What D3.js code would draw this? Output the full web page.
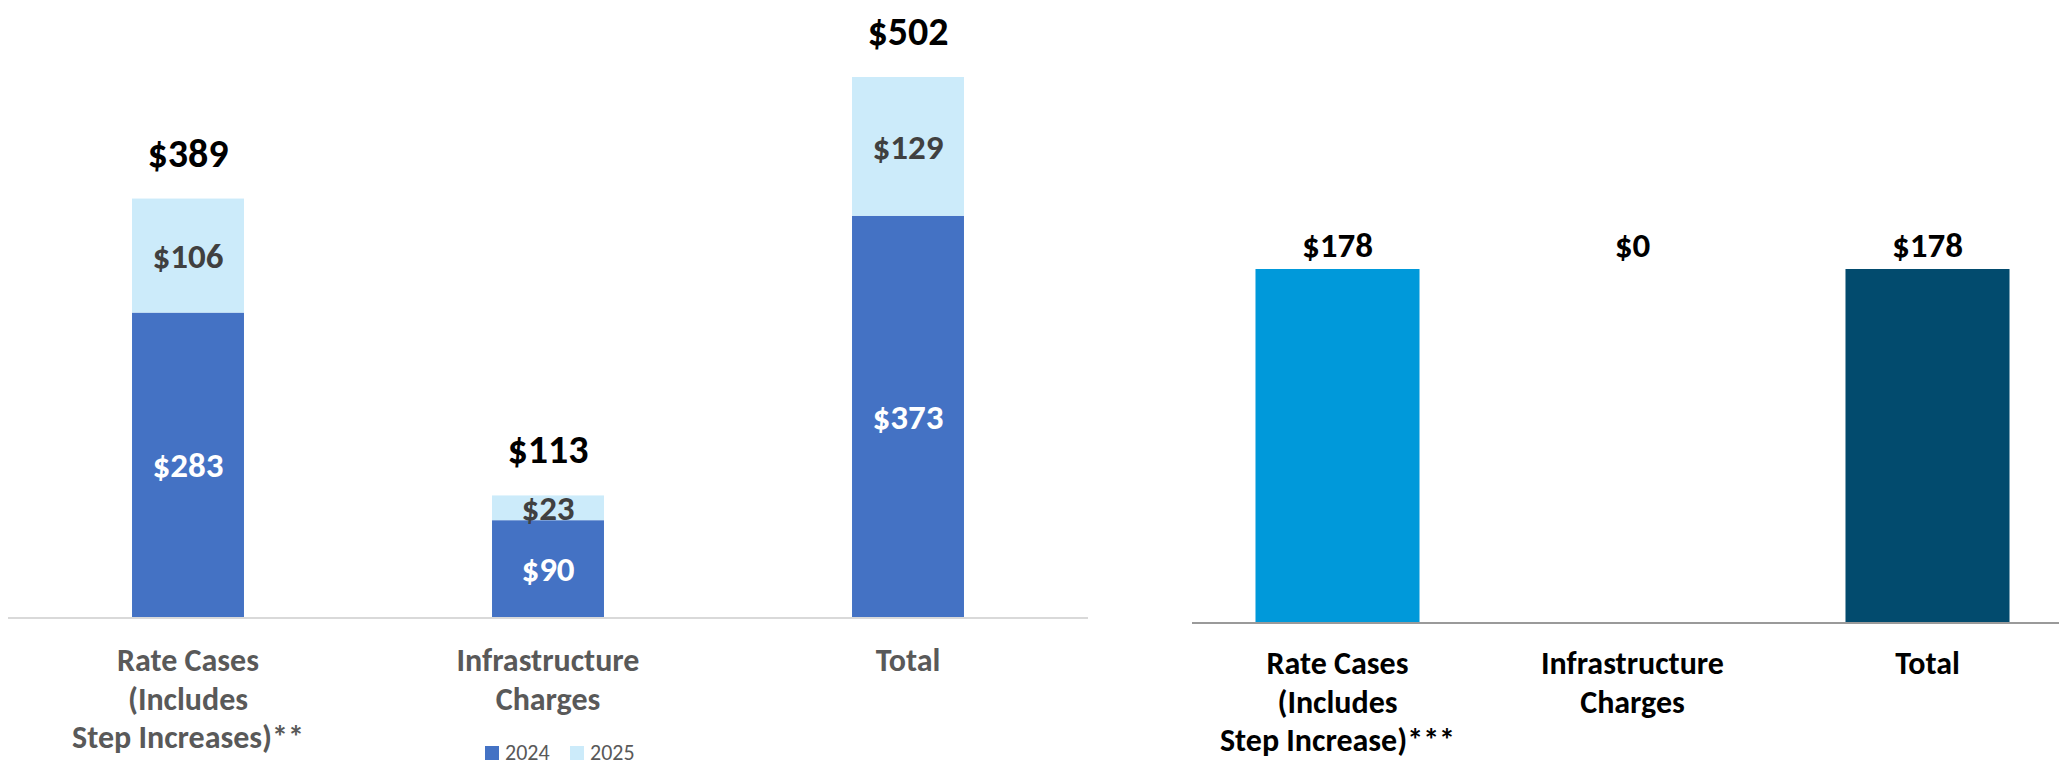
<!DOCTYPE html>
<html>
<head>
<meta charset="utf-8">
<script src="https://cdn.jsdelivr.net/npm/d3@7"></script>
<style>
  body { margin: 0; background: #fff; }
  svg text { font-family: Carlito, 'Liberation Sans Narrow', Lato, sans-serif; }
</style>
</head>
<body>
<div id="chart"></div>
<script>
// left chart data
const leftCategories = ['Rate Cases', 'Infrastructure', 'Total'];
const leftLabelLines = [['Rate Cases', '(Includes', 'Step Increases)**'], ['Infrastructure', 'Charges'], ['Total']];
const values2024 = [283, 90, 373];
const values2025 = [106, 23, 129];
const seriesNames = ['2024', '2025'];

// right chart data
const rightCategories = ['Rate Cases', 'Infrastructure', 'Total'];
const rightLabelLines = [['Rate Cases', '(Includes', 'Step Increase)***'], ['Infrastructure', 'Charges'], ['Total']];
const rightValues = [178, 0, 178];

const width = 2059;
const height = 768;

const svg = d3.select('#chart')
  .append('svg')
  .attr('width', width)
  .attr('height', height);

// ---------- left: stacked bars ----------
const totals = values2024.map((v, i) => v + values2025[i]);

const xL = d3.scaleBand()
  .domain(leftCategories)
  .range([8, 1088])
  .paddingInner(0.689)
  .paddingOuter(0.3445);

const yL = d3.scaleLinear()
  .domain([0, d3.max(totals)])
  .range([617, 77]);

const left = svg.append('g');

left.append('line')
  .attr('x1', 8).attr('x2', 1088)
  .attr('y1', yL(0) + 1).attr('y2', yL(0) + 1)
  .attr('stroke', '#d9d9d9')
  .attr('stroke-width', 2);

// 2024 segment
left.selectAll('.b24')
  .data(leftCategories)
  .enter()
  .append('rect')
  .attr('x', (d) => xL(d))
  .attr('y', (d, i) => yL(values2024[i]))
  .attr('width', xL.bandwidth())
  .attr('height', (d, i) => yL(0) - yL(values2024[i]))
  .attr('fill', '#4472c4');

// 2025 segment
left.selectAll('.b25')
  .data(leftCategories)
  .enter()
  .append('rect')
  .attr('x', (d) => xL(d))
  .attr('y', (d, i) => yL(totals[i]))
  .attr('width', xL.bandwidth())
  .attr('height', (d, i) => yL(values2024[i]) - yL(totals[i]))
  .attr('fill', '#ccebfa');

// segment labels
left.selectAll('.l24')
  .data(leftCategories)
  .enter()
  .append('text')
  .attr('x', (d) => xL(d) + xL.bandwidth() / 2)
  .attr('y', (d, i) => (yL(0) + yL(values2024[i])) / 2)
  .attr('dy', '0.35em')
  .attr('text-anchor', 'middle')
  .attr('font-size', 35)
  .attr('font-weight', 'bold')
  .attr('fill', '#fff')
  .text((d, i) => `$${values2024[i]}`);

left.selectAll('.l25')
  .data(leftCategories)
  .enter()
  .append('text')
  .attr('x', (d) => xL(d) + xL.bandwidth() / 2)
  .attr('y', (d, i) => (yL(values2024[i]) + yL(totals[i])) / 2)
  .attr('dy', '0.35em')
  .attr('text-anchor', 'middle')
  .attr('font-size', 35)
  .attr('font-weight', 'bold')
  .attr('fill', '#404040')
  .text((d, i) => `$${values2025[i]}`);

// total labels
left.selectAll('.lt')
  .data(leftCategories)
  .enter()
  .append('text')
  .attr('x', (d) => xL(d) + xL.bandwidth() / 2)
  .attr('y', (d, i) => yL(totals[i]) - 32)
  .attr('text-anchor', 'middle')
  .attr('font-size', 40)
  .attr('font-weight', 'bold')
  .attr('fill', '#000')
  .text((d, i) => `$${totals[i]}`);

// category labels
left.selectAll('.cat')
  .data(leftCategories)
  .enter()
  .append('text')
  .attr('x', (d) => xL(d) + xL.bandwidth() / 2)
  .attr('y', 671)
  .attr('text-anchor', 'middle')
  .attr('font-size', 32)
  .attr('font-weight', 'bold')
  .attr('fill', '#595959')
  .each(function (d, i) {
    d3.select(this).selectAll('tspan')
      .data(leftLabelLines[i])
      .enter()
      .append('tspan')
      .attr('x', xL(d) + xL.bandwidth() / 2)
      .attr('dy', (t, j) => (j === 0 ? 0 : 38.5))
      .text((t) => t);
  });

// legend
const legendColors = ['#4472c4', '#ccebfa'];
const legend = left.append('g').attr('transform', 'translate(485,746)');
const item = legend.selectAll('g')
  .data(seriesNames)
  .enter()
  .append('g')
  .attr('transform', (d, i) => `translate(${i * 85},0)`);
item.append('rect')
  .attr('width', 14).attr('height', 14)
  .attr('fill', (d, i) => legendColors[i]);
item.append('text')
  .attr('x', 20).attr('y', 14)
  .attr('font-size', 22)
  .attr('fill', '#595959')
  .text((d) => d);

// ---------- right: simple bars ----------
const xR = d3.scaleBand()
  .domain(rightCategories)
  .range([1190, 2075])
  .paddingInner(0.444)
  .paddingOuter(0.222);

const yR = d3.scaleLinear()
  .domain([0, d3.max(rightValues)])
  .range([623, 269]);

const rightColors = ['#0099da', '#0099da', '#024b6e'];
const right = svg.append('g');

right.selectAll('.rb')
  .data(rightCategories)
  .enter()
  .append('rect')
  .attr('x', (d) => xR(d))
  .attr('y', (d, i) => yR(rightValues[i]))
  .attr('width', xR.bandwidth())
  .attr('height', (d, i) => yR(0) - yR(rightValues[i]))
  .attr('fill', (d, i) => rightColors[i]);

right.append('line')
  .attr('x1', 1192).attr('x2', width)
  .attr('y1', yR(0)).attr('y2', yR(0))
  .attr('stroke', '#9a9a9a')
  .attr('stroke-width', 2);

// value labels sit on a common line above the tallest bar
right.selectAll('.rl')
  .data(rightCategories)
  .enter()
  .append('text')
  .attr('x', (d) => xR(d) + xR.bandwidth() / 2)
  .attr('y', yR(d3.max(rightValues)) - 12)
  .attr('text-anchor', 'middle')
  .attr('font-size', 35)
  .attr('font-weight', 'bold')
  .attr('fill', '#000')
  .text((d, i) => `$${rightValues[i]}`);

right.selectAll('.rcat')
  .data(rightCategories)
  .enter()
  .append('text')
  .attr('x', (d) => xR(d) + xR.bandwidth() / 2)
  .attr('y', 674)
  .attr('text-anchor', 'middle')
  .attr('font-size', 32)
  .attr('font-weight', 'bold')
  .attr('fill', '#000')
  .each(function (d, i) {
    d3.select(this).selectAll('tspan')
      .data(rightLabelLines[i])
      .enter()
      .append('tspan')
      .attr('x', xR(d) + xR.bandwidth() / 2)
      .attr('dy', (t, j) => (j === 0 ? 0 : 38.5))
      .text((t) => t);
  });
</script>
</body>
</html>
